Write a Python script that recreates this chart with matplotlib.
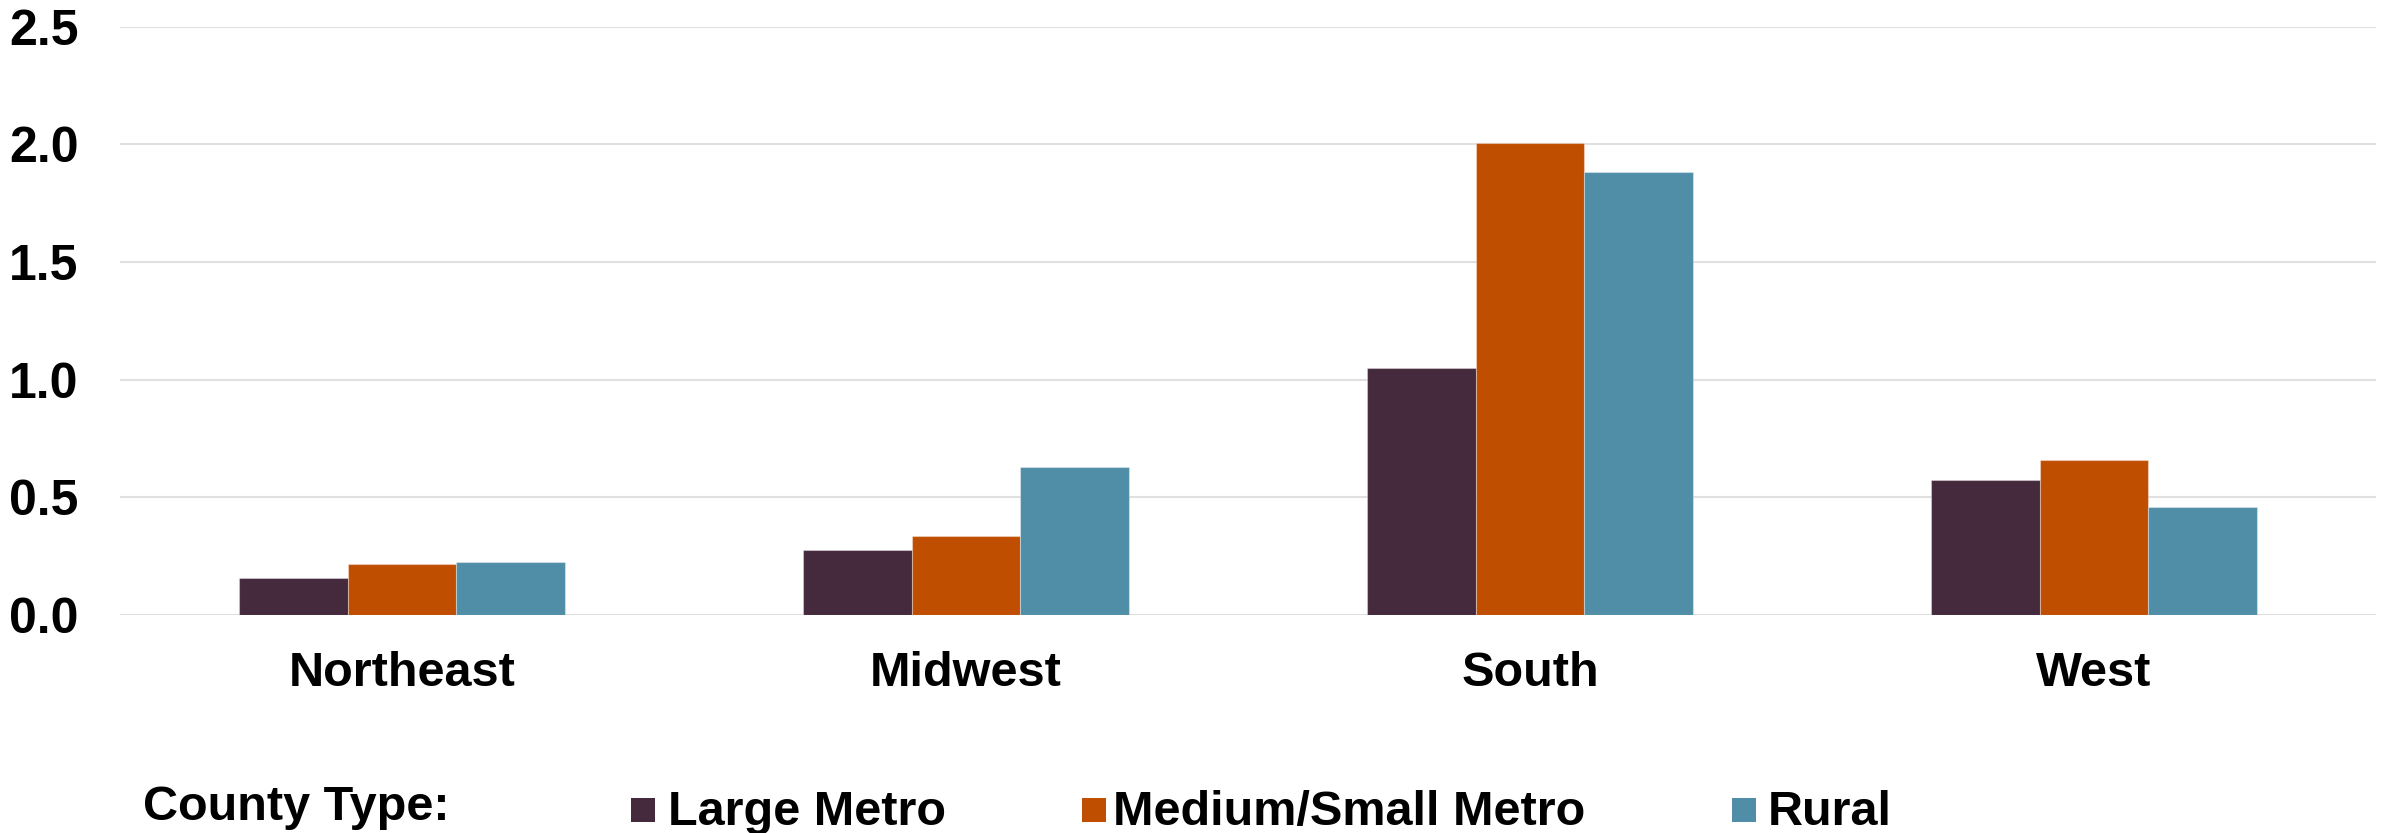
import matplotlib
matplotlib.use("Agg")
import matplotlib.pyplot as plt
from matplotlib.patches import Rectangle
import numpy as np

regions = ["Northeast", "Midwest", "South", "West"]
series_names = ["Large Metro", "Medium/Small Metro", "Rural"]
large_metro = [0.158, 0.278, 1.049, 0.574]
medium_small_metro = [0.218, 0.337, 2.007, 0.658]
rural = [0.226, 0.630, 1.881, 0.460]
y_ticks = [0.0, 0.5, 1.0, 1.5, 2.0, 2.5]
y_tick_labels = ["0.0", "0.5", "1.0", "1.5", "2.0", "2.5"]

colors = ["#45293D", "#C04E00", "#508EA8"]
series = [large_metro, medium_small_metro, rural]

plt.rcParams['font.family'] = ['Liberation Sans', 'DejaVu Sans']
plt.rcParams['font.weight'] = 'bold'

W, H = 2384, 833
fig = plt.figure(figsize=(W / 100, H / 100), dpi=100)
ax = fig.add_axes([120 / W, 1 - 615 / H, (2376 - 120) / W, (615 - 26.7) / H])

x = np.arange(len(regions))
bw = 0.1926
for i, (vals, c) in enumerate(zip(series, colors)):
    ax.bar(x + (i - 1) * bw, vals, width=bw, color=c, edgecolor=(1, 1, 1, 0.35),
           linewidth=0.8, zorder=3)

ax.set_xlim(-0.5, len(regions) - 0.5)
ax.set_ylim(0, 2.5)
ax.set_yticks(y_ticks)
ax.set_yticklabels(y_tick_labels, fontsize=36, fontweight='bold')
ax.set_xticks(x)
ax.set_xticklabels(regions, fontsize=35, fontweight='bold')
ax.tick_params(axis='both', length=0)
ax.tick_params(axis='y', pad=30)
ax.tick_params(axis='x', pad=26)
ax.grid(axis='y', color='#e0e0e0', linewidth=1.5, zorder=0)
ax.set_axisbelow(True)
for s in ax.spines.values():
    s.set_visible(False)

# Legend drawn manually
fig.text(143 / W, 1 - 820 / H, "County Type:", fontsize=35, fontweight='bold',
         ha='left', va='baseline')
marker_x = [631, 1082, 1732]
text_x = [668, 1113, 1768]
for name, c, mx, tx in zip(series_names, colors, marker_x, text_x):
    fig.patches.append(Rectangle((mx / W, 1 - 822 / H), 24 / W, 24 / H,
                                 transform=fig.transFigure, facecolor=c,
                                 edgecolor='none'))
    fig.text(tx / W, 1 - 825 / H, name, fontsize=35, fontweight='bold',
             ha='left', va='baseline')

fig.savefig("out.png", dpi=100)
